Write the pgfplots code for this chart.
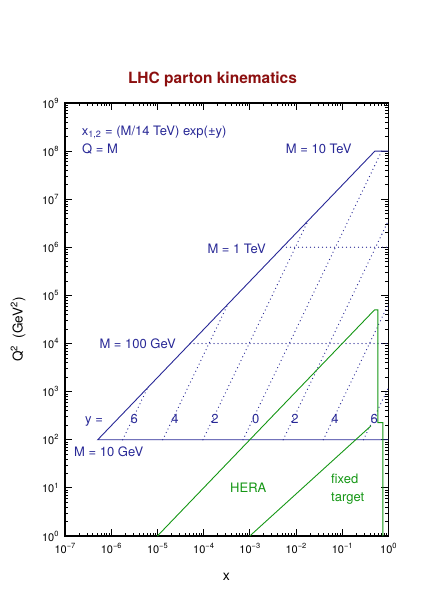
\documentclass[border=0pt]{standalone}
\usepackage{fontspec}
\setmainfont{TeX Gyre Heros}
\usepackage{pgfplots}
\pgfplotsset{compat=1.18}
\definecolor{lhcblue}{RGB}{40,40,150}
\definecolor{lhcgreen}{RGB}{20,150,20}
\definecolor{lhcred}{RGB}{140,15,15}
\newcommand{\tp}[1]{10\raisebox{0.85ex}{\fontsize{7.5}{9}\selectfont #1}}
\newcommand{\lab}{\fontsize{13}{15}\selectfont}
\tikzset{dotl/.style={lhcblue, line width=1.3pt, line cap=round, dash pattern=on 0pt off 4pt}}
\begin{document}
\begin{tikzpicture}
\path[use as bounding box] (-65pt,-75pt) rectangle (367pt,536pt);
\begin{axis}[
  at={(0pt,0pt)}, anchor=south west, scale only axis,
  width=323.4pt, height=433pt,
  xmode=log, ymode=log, xmin=1e-7, xmax=1, ymin=1, ymax=1e9,
  xtick={1e-7,1e-6,1e-5,1e-4,1e-3,1e-2,1e-1,1},
  xticklabels={\tp{−7},\tp{−6},\tp{−5},\tp{−4},\tp{−3},\tp{−2},\tp{−1},\tp{0}},
  ytick={1,10,100,1e3,1e4,1e5,1e6,1e7,1e8,1e9},
  yticklabels={\tp{0},\tp{1},\tp{2},\tp{3},\tp{4},\tp{5},\tp{6},\tp{7},\tp{8},\tp{9}},
  minor xtick={2e-7,3e-7,4e-7,5e-7,6e-7,7e-7,8e-7,9e-7,
    2e-6,3e-6,4e-6,5e-6,6e-6,7e-6,8e-6,9e-6,
    2e-5,3e-5,4e-5,5e-5,6e-5,7e-5,8e-5,9e-5,
    2e-4,3e-4,4e-4,5e-4,6e-4,7e-4,8e-4,9e-4,
    2e-3,3e-3,4e-3,5e-3,6e-3,7e-3,8e-3,9e-3,
    2e-2,3e-2,4e-2,5e-2,6e-2,7e-2,8e-2,9e-2,
    0.2,0.3,0.4,0.5,0.6,0.7,0.8,0.9},
  minor ytick={2,3,4,5,6,7,8,9,
    20,30,40,50,60,70,80,90,
    2e2,3e2,4e2,5e2,6e2,7e2,8e2,9e2,
    2e3,3e3,4e3,5e3,6e3,7e3,8e3,9e3,
    2e4,3e4,4e4,5e4,6e4,7e4,8e4,9e4,
    2e5,3e5,4e5,5e5,6e5,7e5,8e5,9e5,
    2e6,3e6,4e6,5e6,6e6,7e6,8e6,9e6,
    2e7,3e7,4e7,5e7,6e7,7e7,8e7,9e7,
    2e8,3e8,4e8,5e8,6e8,7e8,8e8,9e8},
  tick align=inside,
  major tick length=7pt, minor tick length=3.5pt,
  axis line style={line width=1.2pt},
  every tick/.style={black, line width=0.8pt},
  every minor tick/.style={black, line width=0.7pt},
  tick label style={font=\fontsize{11}{13}\selectfont},
  xticklabel style={yshift=-4pt},
  yticklabel style={xshift=-3pt},
]
% LHC boundary
\addplot[lhcblue, line width=0.9pt] coordinates {(1,1e8) (0.5102,1e8) (5.102e-7,100) (1,100)};
% constant mass lines
\addplot[dotl] coordinates {(5.102e-5,1e4) (1,1e4)};
\addplot[dotl] coordinates {(5.102e-3,1e6) (1,1e6)};
% constant rapidity lines
\addplot[dotl] coordinates {(1.7706e-6,100) (6.144e-6,1204.3)};
\addplot[dotl] coordinates {(1.3083e-5,100) (3.3547e-4,65751)};
\addplot[dotl] coordinates {(9.6668e-5,100) (0.018316,3.5898e6)};
\addplot[dotl] coordinates {(7.1429e-4,100) (0.71429,1e8)};
\addplot[dotl] coordinates {(5.2779e-3,100) (1,3.5898e6)};
\addplot[dotl] coordinates {(0.038999,100) (1,65751)};
\addplot[dotl] coordinates {(0.28816,100) (1,1204.3)};
% HERA and fixed target
\addplot[lhcgreen, line width=0.9pt] coordinates {(1e-5,1) (0.5,5e4) (0.59,5e4) (0.59,227) (0.76,227) (0.76,1)};
\addplot[lhcgreen, line width=0.9pt] coordinates {(1e-3,1) (0.42,195)};
\end{axis}
\node[lhcred, anchor=base, font=\fontsize{15.5}{18}\selectfont\bfseries] at (147.5pt,452pt) {LHC parton kinematics};
\node[anchor=base, font=\fontsize{14}{16}\selectfont] at (161.3pt,-44.7pt) {x};
\node[rotate=90, font=\fontsize{13.5}{16}\selectfont] at (-47pt,206.5pt) {Q\textsuperscript{2}\ \ (GeV\textsuperscript{2})};
\begin{scope}[every node/.style={lhcblue, font=\lab, inner sep=0pt}]
\node[anchor=base west] at (16.7pt,400.5pt) {x\textsubscript{1,2} = (M/14 TeV) exp(±y)};
\node[anchor=base west] at (17pt,382.5pt) {Q = M};
\node[anchor=base east] at (286.7pt,382.5pt) {M = 10 TeV};
\node[anchor=base west] at (142.3pt,282.7pt) {M = 1 TeV};
\node[anchor=base west] at (34.3pt,187.7pt) {M = 100 GeV};
\node[anchor=base west] at (20pt,112.7pt) {y =};
\node[anchor=base] at (69.3pt,112.7pt) {6};
\node[anchor=base] at (110pt,112.7pt) {4};
\node[anchor=base] at (150pt,112.7pt) {2};
\node[anchor=base] at (190.7pt,112.7pt) {0};
\node[anchor=base] at (230pt,112.7pt) {2};
\node[anchor=base] at (270pt,112.7pt) {4};
\node[anchor=base] at (309.3pt,112.7pt) {6};
\node[anchor=base west] at (9pt,80pt) {M = 10 GeV};
\end{scope}
\begin{scope}[every node/.style={lhcgreen, font=\lab, inner sep=0pt}]
\node[anchor=base west] at (165pt,43.3pt) {HERA};
\node[anchor=base west] at (266pt,52.7pt) {fixed};
\node[anchor=base west] at (266pt,34.3pt) {target};
\end{scope}
\end{tikzpicture}
\end{document}
